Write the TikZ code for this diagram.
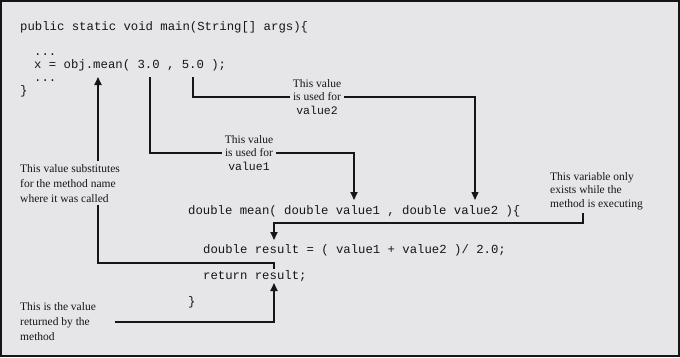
\documentclass[tikz,border=0pt]{standalone}
\usepackage{fontspec}
\setmainfont{Liberation Serif}
\setmonofont{Liberation Mono}
\usetikzlibrary{arrows.meta}
\definecolor{bg}{RGB}{230,230,233}
\definecolor{ink}{RGB}{22,22,22}
\begin{document}
\begin{tikzpicture}[x=1pt,y=-1pt,
 code/.style={anchor=base west,inner sep=0pt,text=ink,font=\fontsize{12.3}{13}\ttfamily},
 note/.style={inner sep=3pt,text=ink,font=\fontsize{11.5}{13.5}\selectfont},
 widenote/.style={note,font=\fontsize{11.5}{15}\selectfont},
 conn/.style={line width=1.8pt,draw=ink},
 thinconn/.style={line width=1.2pt,draw=ink},
 tip/.style={-{Triangle[width=7pt,length=8pt]}}]
\useasboundingbox (0,0) rectangle (680,357);
\fill[bg] (0,0) rectangle (680,357);
\draw[line width=2pt, ink] (1,1) rectangle (679,356);

% code
\node[code] (main) at (20,30) {public static void main(String[] args)\{};
\node[code] (dots1) at (34,55) {...};
\node[code] (call) at (34,68) {x = obj.mean( 3.0 , 5.0 );};
\node[code] (dots2) at (34,81) {...};
\node[code] (close1) at (20,94) {\}};
\node[code] (mean) at (188,214) {double mean( double value1 , double value2 )\{};
\node[code] (result) at (203,253) {double result = ( value1 + value2 )/ 2.0;};
\node[code] (ret) at (203,279) {return result;};
\node[code] (close2) at (188,305) {\}};

% notes
\node[note, align=center] (v1) at (249,153) {This value\\is used for\\\texttt{value1}};
\node[note, align=center] (v2) at (317,97) {This value\\is used for\\\texttt{value2}};
\node[widenote, align=left, anchor=north west] (sub) at (17,161) {This value substitutes\\for the method name\\where it was called};
\node[note, align=left, anchor=north west] (var) at (547,169) {This variable only\\exists while the\\method is executing};
\node[widenote, align=left, anchor=north west] (retv) at (17,299) {This is the value\\returned by the\\method};

% connector ends
\coordinate (p3) at (150,77);
\coordinate (p5) at (193,77);
\coordinate (t1) at (354,200);
\coordinate (t2) at (475,200);
\coordinate (vs) at (583,213);
\coordinate (vb) at (274,240);
\coordinate (rs) at (274,269);
\coordinate (ax) at (98,77);
\coordinate (rl) at (115,322);
\coordinate (ra) at (274,283);

% connectors
\draw[conn] (p3) |- (v1.west);
\draw[conn,tip] (v1.east) -| (t1);
\draw[thinconn] (p5) |- (v2.west);
\draw[thinconn,tip] (v2.east) -| (t2);
\draw[conn,tip] (vs) -- ++(0,10) -| (vb);
\draw[conn] (rs) -- ++(0,-6) -| (sub.south -| ax);
\draw[conn,tip] (sub.north -| ax) -- (ax);
\draw[conn,tip] (rl) -| (ra);
\end{tikzpicture}
\end{document}
